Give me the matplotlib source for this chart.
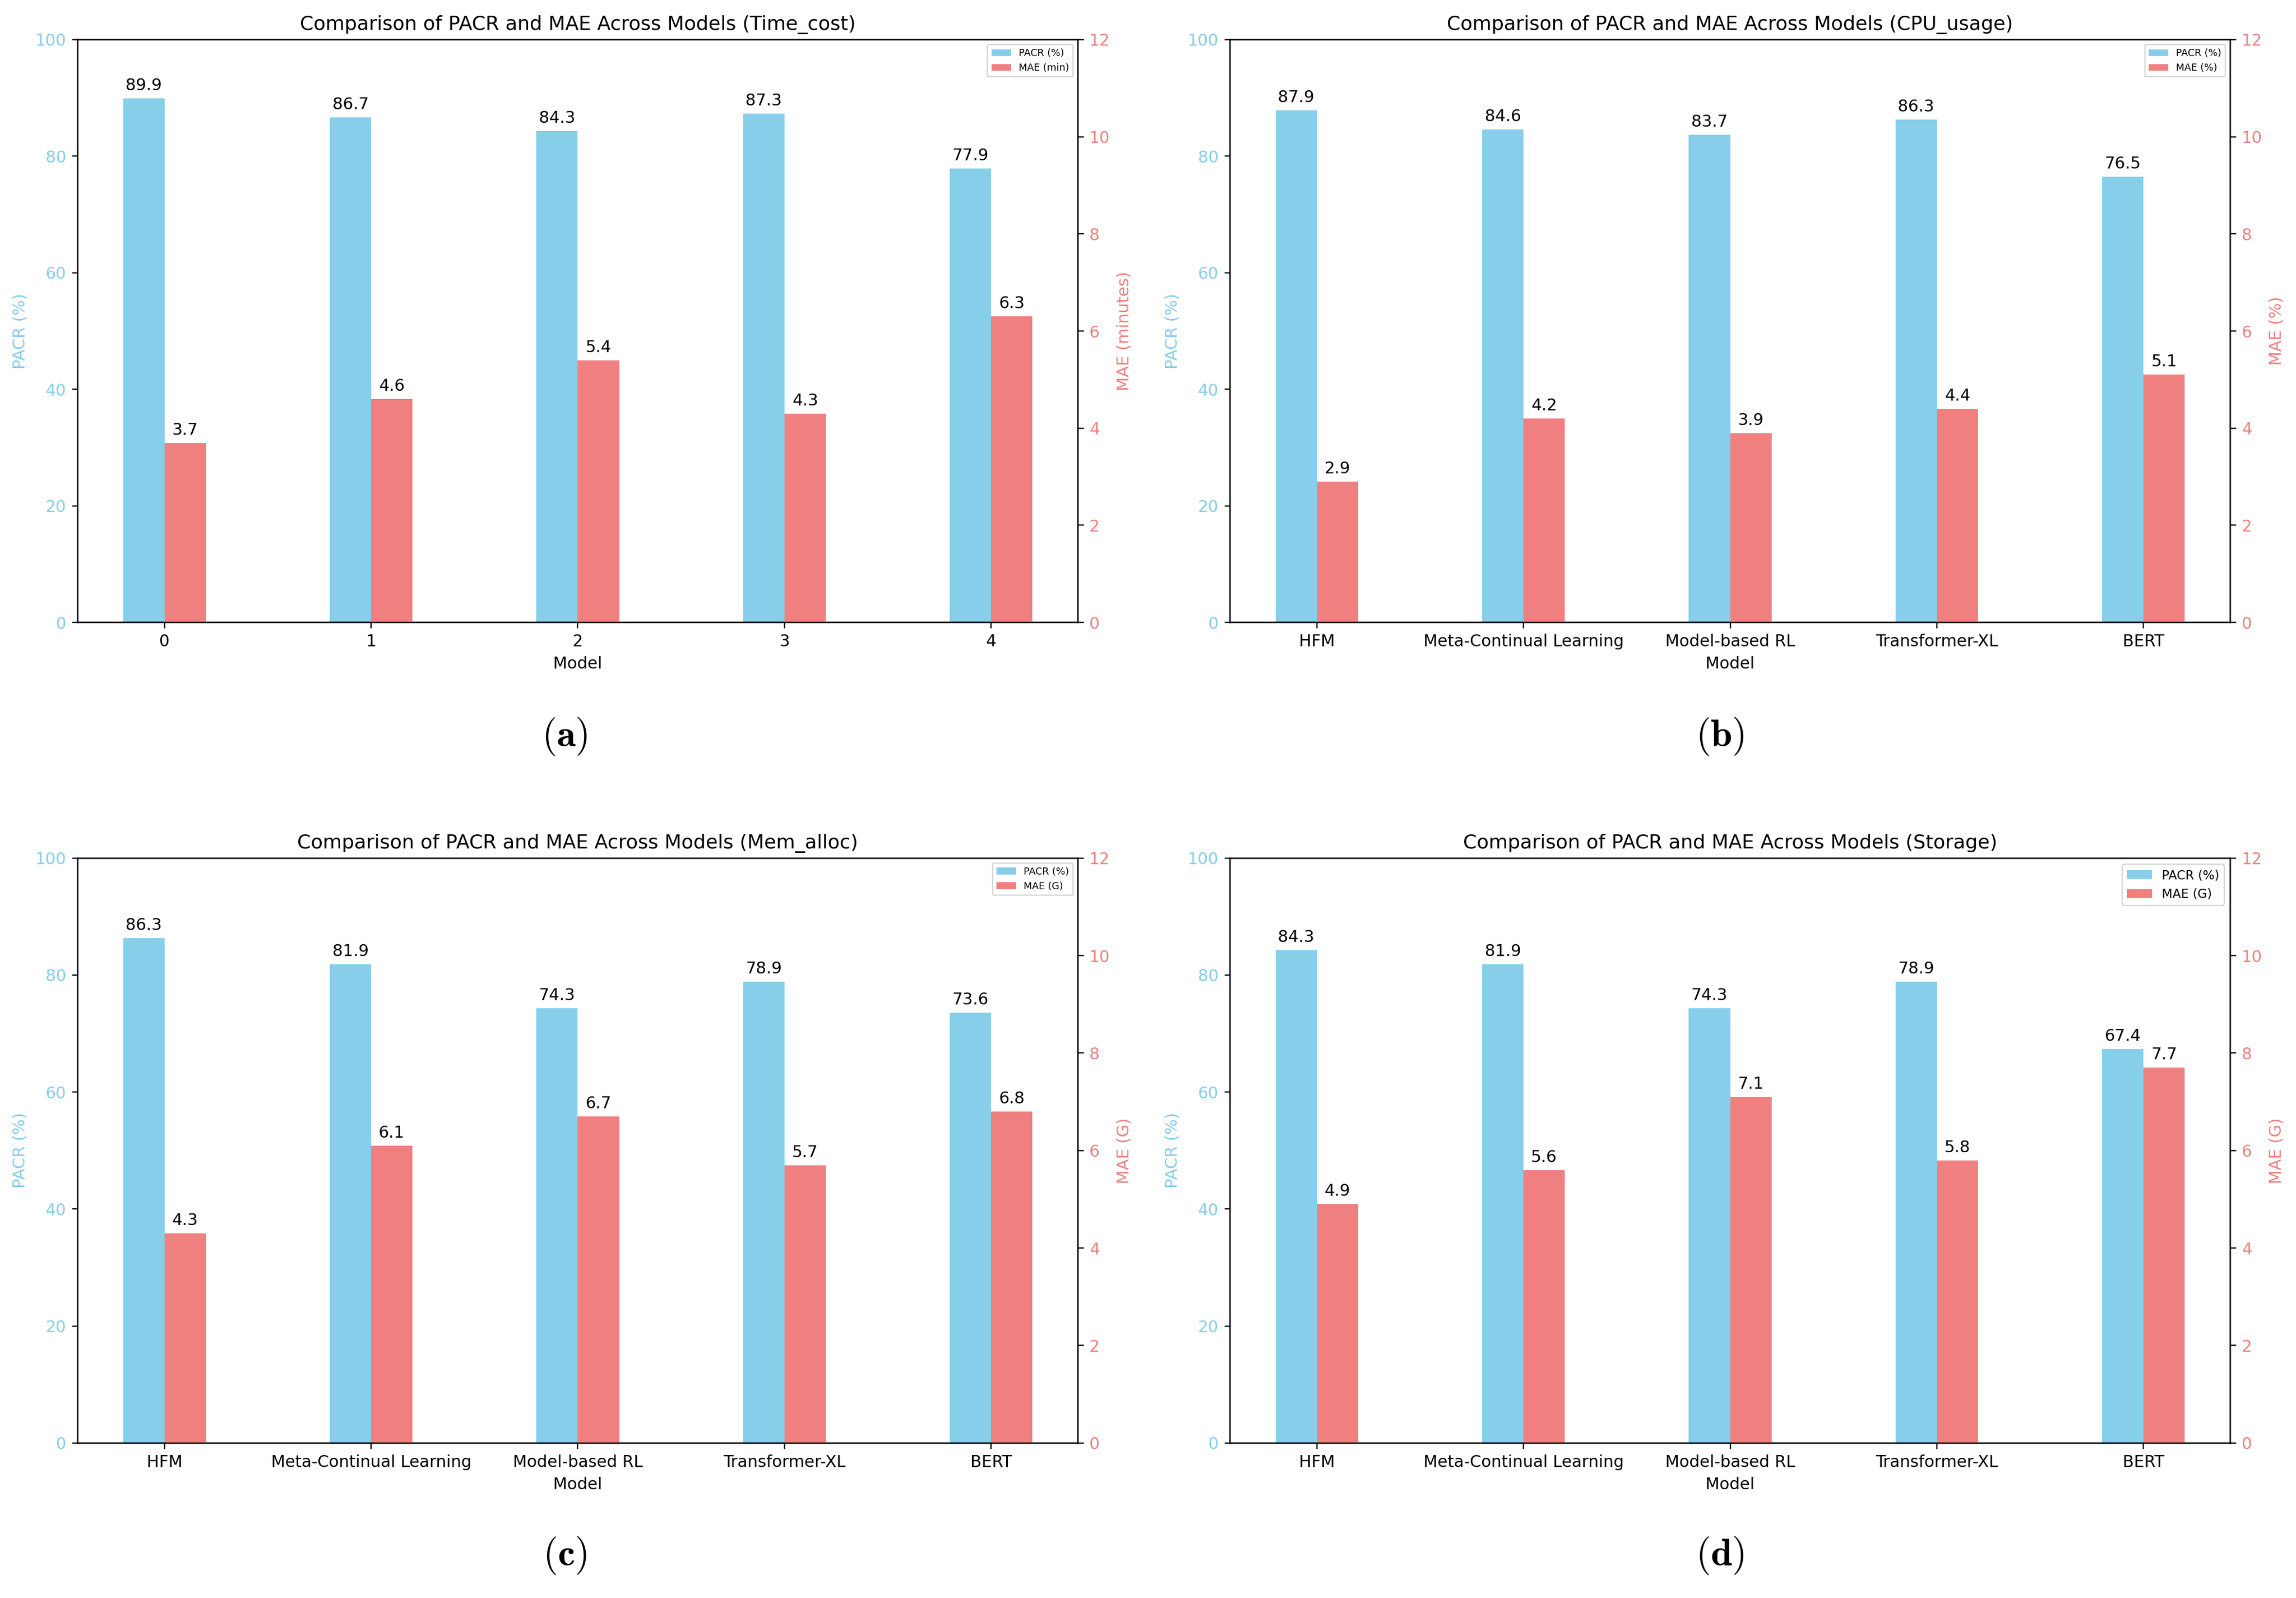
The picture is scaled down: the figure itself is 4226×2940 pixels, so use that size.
import matplotlib
matplotlib.use('Agg')
import matplotlib.pyplot as plt
import numpy as np

plt.rcParams['mathtext.fontset'] = 'cm'

models = ['HFM', 'Meta-Continual Learning', 'Model-based RL', 'Transformer-XL', 'BERT']
tick_a = ['0', '1', '2', '3', '4']

pacr_time = [89.9, 86.7, 84.3, 87.3, 77.9]
mae_time = [3.7, 4.6, 5.4, 4.3, 6.3]
pacr_cpu = [87.9, 84.6, 83.7, 86.3, 76.5]
mae_cpu = [2.9, 4.2, 3.9, 4.4, 5.1]
pacr_mem = [86.3, 81.9, 74.3, 78.9, 73.6]
mae_mem = [4.3, 6.1, 6.7, 5.7, 6.8]
pacr_sto = [84.3, 81.9, 74.3, 78.9, 67.4]
mae_sto = [4.9, 5.6, 7.1, 5.8, 7.7]

titles = ['Time_cost', 'CPU_usage', 'Mem_alloc', 'Storage']
mae_ylabels = ['MAE (minutes)', 'MAE (%)', 'MAE (G)', 'MAE (G)']
mae_legend = ['MAE (min)', 'MAE (%)', 'MAE (G)', 'MAE (G)']
captions = ['(a)', '(b)', '(c)', '(d)']

s = 0.72  # panels were shrunk when placed in the figure
fs = 10 * s

fig = plt.figure(figsize=(4226 / 300, 2940 / 300), dpi=300)

rects = [[0.0338, 0.6105, 0.4357, 0.3647],
         [0.5357, 0.6105, 0.4357, 0.3647],
         [0.0338, 0.0970, 0.4357, 0.3660],
         [0.5357, 0.0970, 0.4357, 0.3660]]
cap_pos = [(0.246, 0.539), (0.749, 0.539), (0.246, 0.0265), (0.749, 0.0265)]

panels = [(tick_a, pacr_time, mae_time),
          (models, pacr_cpu, mae_cpu),
          (models, pacr_mem, mae_mem),
          (models, pacr_sto, mae_sto)]

w = 0.2
for i, (labels, pacr, mae) in enumerate(panels):
    ax1 = fig.add_axes(rects[i])
    ax2 = ax1.twinx()
    x = np.arange(len(labels))
    b1 = ax1.bar(x - w / 2, pacr, w, color='skyblue', label='PACR (%)')
    b2 = ax2.bar(x + w / 2, mae, w, color='lightcoral', label=mae_legend[i])
    ax1.set_ylim(0, 100)
    ax2.set_ylim(0, 12)
    ax1.set_xticks(x)
    ax1.set_xticklabels(labels, fontsize=fs)
    ax1.set_xlabel('Model', fontsize=fs, labelpad=4 * s)
    ax1.set_ylabel('PACR (%)', color='skyblue', fontsize=fs, labelpad=4 * s)
    ax2.set_ylabel(mae_ylabels[i], color='lightcoral', fontsize=fs, labelpad=4 * s)
    ax1.tick_params(axis='y', labelcolor='skyblue')
    ax2.tick_params(axis='y', labelcolor='lightcoral')
    for a in (ax1, ax2):
        a.tick_params(labelsize=fs, length=3.5 * s, width=0.8 * s, pad=3.5 * s)
        for sp in a.spines.values():
            sp.set_linewidth(0.8 * s)
    ax1.set_title('Comparison of PACR and MAE Across Models (%s)' % titles[i],
                  fontsize=12 * s, pad=6 * s)
    for r in b1:
        ax1.annotate('%.1f' % r.get_height(), (r.get_x() + r.get_width() / 2, r.get_height()),
                     xytext=(0, 3 * s), textcoords='offset points',
                     ha='center', va='bottom', fontsize=fs)
    for r in b2:
        ax2.annotate('%.1f' % r.get_height(), (r.get_x() + r.get_width() / 2, r.get_height()),
                     xytext=(0, 3 * s), textcoords='offset points',
                     ha='center', va='bottom', fontsize=fs)
    lfs = 7.6 * s if i == 3 else 6 * s
    leg = ax1.legend([b1, b2], ['PACR (%)', mae_legend[i]], loc='upper right',
                     fontsize=lfs)
    leg.get_frame().set_linewidth(0.8 * s)
    fig.text(cap_pos[i][0], cap_pos[i][1], r'$\mathbf{%s}$' % captions[i],
             ha='center', va='center', fontsize=17)

fig.savefig('out.png', dpi=300)
